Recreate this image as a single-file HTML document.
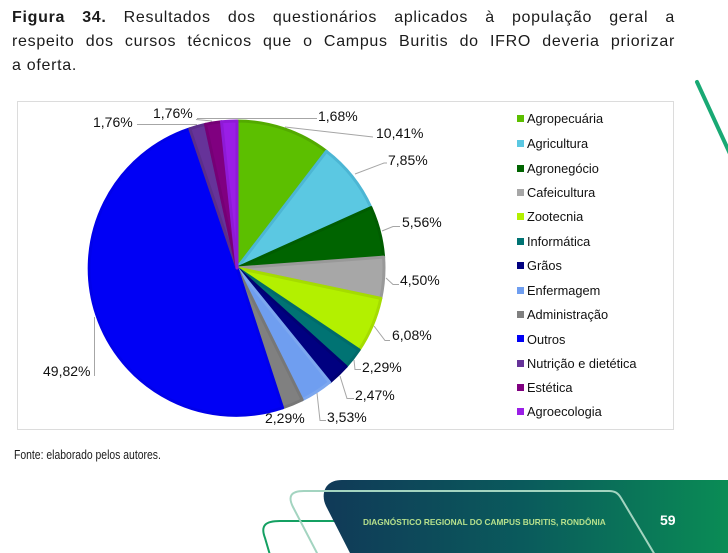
<!DOCTYPE html>
<html>
<head>
<meta charset="utf-8">
<style>
  html,body{margin:0;padding:0;background:#fff;}
  body{width:728px;height:553px;overflow:hidden;position:relative;font-family:"Liberation Sans",Arial,sans-serif;}
  .title{position:absolute;left:12px;top:6px;width:663px;font-size:16px;line-height:24px;color:#1b1b1b;letter-spacing:0.7px;}
  .title div{white-space:nowrap;}
  .j{text-align:justify;text-align-last:justify;}
  .fonte{position:absolute;left:14px;top:447px;font-size:13px;line-height:16px;color:#1b1b1b;white-space:nowrap;transform:scaleX(0.8);transform-origin:0 0;}
  svg{position:absolute;left:0;top:0;}
</style>
</head>
<body>
<div class="title">
  <div class="j"><b>Figura 34.</b> Resultados dos questionários aplicados à população geral a</div>
  <div class="j">respeito dos cursos técnicos que o Campus Buritis do IFRO deveria priorizar</div>
  <div>a oferta.</div>
</div>

<svg width="728" height="553" viewBox="0 0 728 553" xmlns="http://www.w3.org/2000/svg">
  <defs>
    <linearGradient id="fg" x1="326" y1="0" x2="728" y2="0" gradientUnits="userSpaceOnUse">
      <stop offset="0" stop-color="#103a58"/>
      <stop offset="0.5" stop-color="#0a5b5c"/>
      <stop offset="1" stop-color="#0a8c55"/>
    </linearGradient>
  </defs>

  <!-- top-right decorative line -->
  <line x1="697" y1="82" x2="731" y2="156" stroke="#19a974" stroke-width="4" stroke-linecap="round"/>

  <!-- chart frame -->
  <rect x="17.5" y="101.5" width="656" height="328" fill="#fff" stroke="#dcdcdc" stroke-width="1"/>

  <!-- pie slices -->
  <g stroke-width="3" stroke-linejoin="round">
    <path d="M237,268 L237,121 A147,147 0 0 1 326.4,151.3 Z" fill="#5cbf00" stroke="#53aa00"/>
    <path d="M237,268 L326.4,151.3 A147,147 0 0 1 371,207.6 Z" fill="#5bc8e2" stroke="#4cb6d4"/>
    <path d="M237,268 L371,207.6 A147,147 0 0 1 383.6,257.1 Z" fill="#006400" stroke="#005c00"/>
    <path d="M237,268 L383.6,257.1 A147,147 0 0 1 380.8,298.4 Z" fill="#a7a7a7" stroke="#999999"/>
    <path d="M237,268 L380.8,298.4 A147,147 0 0 1 359.1,349.9 Z" fill="#b3f000" stroke="#a5dc00"/>
    <path d="M237,268 L359.1,349.9 A147,147 0 0 1 346.1,366.5 Z" fill="#007373" stroke="#006a6a"/>
    <path d="M237,268 L346.1,366.5 A147,147 0 0 1 329.6,382.2 Z" fill="#000080" stroke="#000074"/>
    <path d="M237,268 L329.6,382.2 A147,147 0 0 1 302.2,399.8 Z" fill="#6f9ef0" stroke="#7ca7ef"/>
    <path d="M237,268 L302.2,399.8 A147,147 0 0 1 282.6,407.8 Z" fill="#808080" stroke="#777777"/>
    <path d="M237,268 L282.6,407.8 A147,147 0 0 1 189.8,128.8 Z" fill="#0000f5" stroke="#0000ea"/>
    <path d="M237,268 L189.8,128.8 A147,147 0 0 1 205.5,124.4 Z" fill="#663399" stroke="#5c2e8a"/>
    <path d="M237,268 L205.5,124.4 A147,147 0 0 1 221.5,121.8 Z" fill="#800080" stroke="#760076"/>
    <path d="M237,268 L221.5,121.8 A147,147 0 0 1 237,121 Z" fill="#9a1ee6" stroke="#8e1ad6"/>
  </g>

  <!-- leader lines -->
  <g fill="none" stroke="#a6a6a6" stroke-width="1">
    <polyline points="197,124.5 137,124.5"/>
    <polyline points="212,121 196,119.5"/>
    <polyline points="197,118.5 317,118.5"/>
    <polyline points="285,127 373,137"/>
    <polyline points="355,174 384,163 387,163"/>
    <polyline points="382,231 393,226.5 400,226.5"/>
    <polyline points="386,278 393,284.5 399,284.5"/>
    <polyline points="374,326 385,340.5 390,340.5"/>
    <polyline points="354,360 355,369.5 361,369.5"/>
    <polyline points="340,376 347,398.5 354,398.5"/>
    <polyline points="317,393 320,420.5 326,420.5"/>
    <polyline points="94.5,317 94.5,376"/>
  </g>

  <!-- data labels -->
  <g font-family="Liberation Sans, Arial, sans-serif" font-size="14" fill="#111">
    <text x="93" y="127">1,76%</text>
    <text x="153" y="118">1,76%</text>
    <text x="318" y="121">1,68%</text>
    <text x="376" y="138">10,41%</text>
    <text x="388" y="165">7,85%</text>
    <text x="402" y="227">5,56%</text>
    <text x="400" y="285">4,50%</text>
    <text x="392" y="340">6,08%</text>
    <text x="362" y="372">2,29%</text>
    <text x="355" y="400">2,47%</text>
    <text x="327" y="422">3,53%</text>
    <text x="265" y="423">2,29%</text>
    <text x="43" y="376">49,82%</text>
  </g>

  <!-- legend -->
  <g font-family="Liberation Sans, Arial, sans-serif" font-size="12.8" fill="#111">
    <rect x="517" y="115" width="7" height="7" fill="#5cbf00"/><text x="527" y="123">Agropecuária</text>
    <rect x="517" y="140" width="7" height="7" fill="#5bc8e2"/><text x="527" y="148">Agricultura</text>
    <rect x="517" y="165" width="7" height="7" fill="#006400"/><text x="527" y="173">Agronegócio</text>
    <rect x="517" y="189" width="7" height="7" fill="#a7a7a7"/><text x="527" y="197">Cafeicultura</text>
    <rect x="517" y="213" width="7" height="7" fill="#b3f000"/><text x="527" y="221">Zootecnia</text>
    <rect x="517" y="238" width="7" height="7" fill="#007373"/><text x="527" y="246">Informática</text>
    <rect x="517" y="262" width="7" height="7" fill="#000080"/><text x="527" y="270">Grãos</text>
    <rect x="517" y="287" width="7" height="7" fill="#6f9ef0"/><text x="527" y="295">Enfermagem</text>
    <rect x="517" y="311" width="7" height="7" fill="#808080"/><text x="527" y="319">Administração</text>
    <rect x="517" y="335" width="7" height="7" fill="#0000f5"/><text x="527" y="344">Outros</text>
    <rect x="517" y="360" width="7" height="7" fill="#663399"/><text x="527" y="368">Nutrição e dietética</text>
    <rect x="517" y="384" width="7" height="7" fill="#800080"/><text x="527" y="392">Estética</text>
    <rect x="517" y="408" width="7" height="7" fill="#9a1ee6"/><text x="527" y="416">Agroecologia</text>
  </g>

  <!-- footer decoration -->
  <path d="M270,555 L265,538 C260,525 266,521 280,521 L335,521" fill="none" stroke="#14a062" stroke-width="2"/>
  <path d="M351,555 L326,506 C321,496 323,480 342,480 L728,480 L728,555 Z" fill="url(#fg)"/>
  <path d="M318,555 L293,507 C288,497 290,491 304,491 L609,491 C615,491 618,493 621,498 L655,555" fill="none" stroke="#a3d4c0" stroke-width="2"/>
  <text x="363" y="525" font-family="Liberation Sans, Arial, sans-serif" font-size="8.3" font-weight="bold" fill="#b6e08c">DIAGNÓSTICO REGIONAL DO CAMPUS BURITIS, RONDÔNIA</text>
  <text x="660" y="525" font-family="Liberation Sans, Arial, sans-serif" font-size="14" font-weight="bold" fill="#ffffff">59</text>
</svg>

<div class="fonte">Fonte: elaborado pelos autores.</div>
</body>
</html>
